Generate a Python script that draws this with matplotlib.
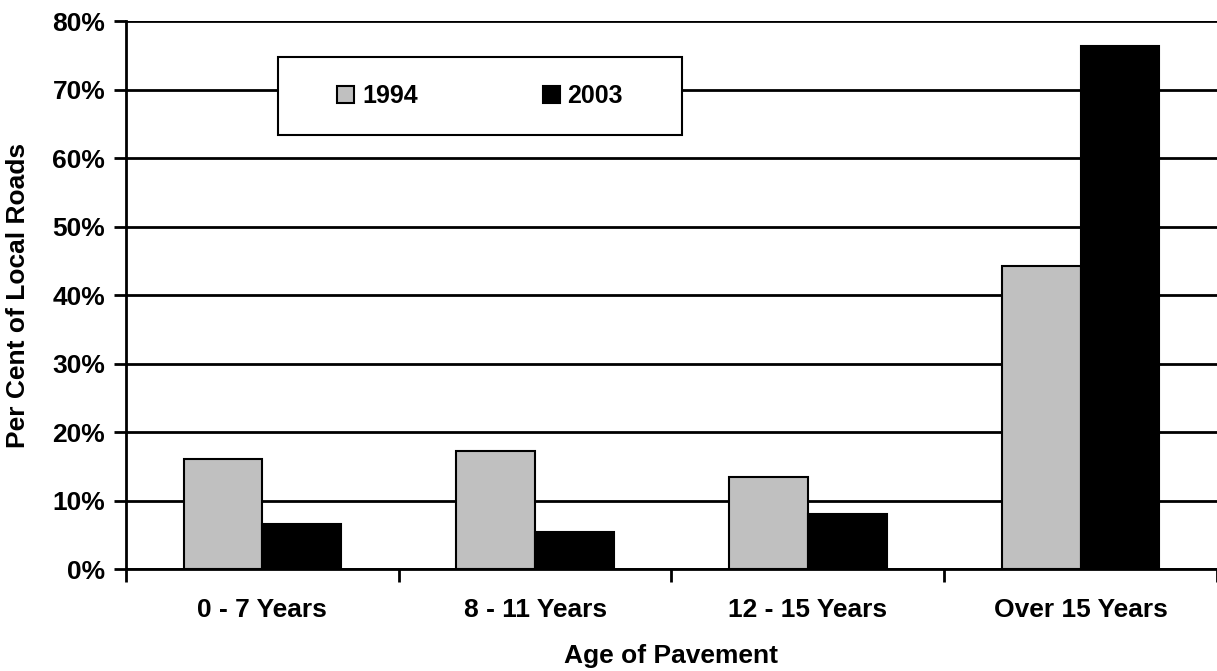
import numpy as np
import matplotlib
matplotlib.use("Agg")
import matplotlib.pyplot as plt
from matplotlib.patches import Rectangle
from matplotlib.ticker import FuncFormatter, FixedLocator

plt.rcParams.update({"font.family": ["Liberation Sans", "DejaVu Sans"],
                     "font.weight": "bold", "axes.labelweight": "bold",
                     "font.size": 19})

categories = ["0 - 7 Years", "8 - 11 Years", "12 - 15 Years", "Over 15 Years"]
pct_1994 = [16.0, 17.3, 13.5, 44.2]
pct_2003 = [6.6, 5.4, 8.0, 76.4]
series = [("1994", pct_1994, "#c0c0c0"), ("2003", pct_2003, "#000000")]

fig = plt.figure(figsize=(12.17, 6.71), dpi=100)
ax = fig.add_axes([0.1035, 0.152, 0.8965, 0.8165])

x = np.arange(len(categories))
w = 0.289
for i, (name, vals, col) in enumerate(series):
    ax.bar(x + (i - 0.5) * w, vals, width=w, color=col, edgecolor="black",
           linewidth=1.5, label=name, zorder=2)

ax.set_xlim(-0.5, len(categories) - 0.5)
ax.set_ylim(0, 80)
ax.set_yticks(np.arange(0, 81, 10))
ax.yaxis.set_major_formatter(FuncFormatter(lambda v, _: f"{v:.0f}%"))
ax.grid(axis="y", color="black", linewidth=2, zorder=1)
ax.set_axisbelow(True)

ax.set_xticks(x)
ax.set_xticklabels(categories)
ax.tick_params(axis="x", which="major", length=0, pad=21)
ax.xaxis.set_minor_locator(FixedLocator(np.arange(-0.5, len(categories), 1.0)))
ax.tick_params(axis="x", which="minor", length=9, width=2, direction="out")
ax.tick_params(axis="y", length=9, width=2, direction="out", pad=6)

for s in ["top", "right"]:
    ax.spines[s].set_visible(False)
for s in ["left", "bottom"]:
    ax.spines[s].set_linewidth(2)

ax.set_xlabel("Age of Pavement")
ax.xaxis.label.set_va("center")
ax.xaxis.set_label_coords(0.5, -0.159)
ax.set_ylabel("Per Cent of Local Roads")
ax.yaxis.label.set_va("center")
ax.yaxis.set_label_coords(-0.099, 0.5)

# legend box
box = Rectangle((0.139, 0.792), 0.371, 0.142, transform=ax.transAxes,
                facecolor="white", edgecolor="black", linewidth=1.5, zorder=5)
ax.add_patch(box)
leg = ax.legend(loc="center", bbox_to_anchor=(0.139 + 0.371 / 2, 0.792 + 0.142 / 2),
                ncol=2, frameon=False, fontsize=18, handlelength=0.7, handleheight=0.7,
                handletextpad=0.3, columnspacing=5.0)
leg.set_zorder(6)
for h in leg.legend_handles:
    h.set_linewidth(1.5)

fig.savefig("out.png", dpi=100)
